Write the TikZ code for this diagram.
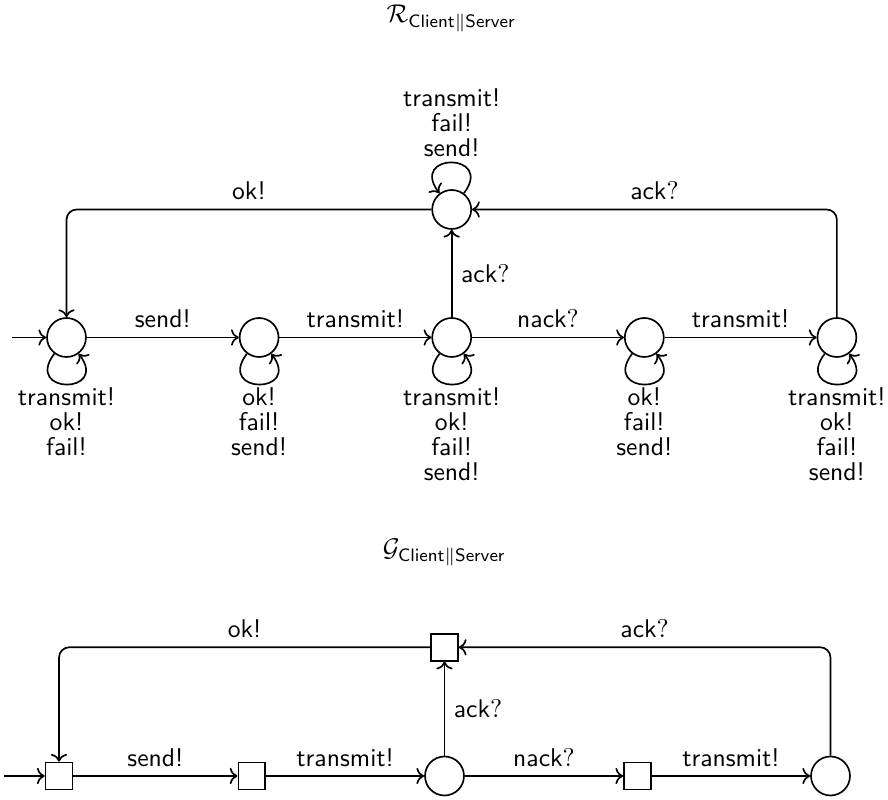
\documentclass[tikz,border=0pt]{standalone}
\usetikzlibrary{arrows.meta}
\begin{document}
\begin{tikzpicture}[x=0.39pt,y=0.39pt,
  every node/.style={font=\sffamily},
  lbl/.style={font={\sffamily\linespread{0.8125}\selectfont},align=center},
  st/.style={circle,draw,line width=0.65pt,minimum size=15.2pt,inner sep=0pt},
  sq/.style={rectangle,draw,line width=0.65pt,minimum size=10.5pt,inner sep=0pt},
  tr/.style={->,line width=0.65pt,rounded corners=4pt},
  loopdown/.style={->,line width=0.65pt,out=-127,in=-53,distance=20pt},
  loopup/.style={->,line width=0.65pt,out=53,in=127,distance=20pt}]
\useasboundingbox (0,0) rectangle (888,-800);

% ---------- R_{Client||Server} ----------
\node[anchor=base] (rtitle) at (451.5,-22.5) {$\mathcal{R}_{\mathsf{Client}\|\mathsf{Server}}$};

\node[st] (s1) at (66.5,-337.5) {};
\node[st] (s2) at (259.1,-337.5) {};
\node[st] (s3) at (451.7,-337.5) {};
\node[st] (s4) at (644.3,-337.5) {};
\node[st] (s5) at (836.9,-337.5) {};
\node[st] (st) at (451.7,-209.5) {};
\coordinate (ri) at (12,-337.5);

\draw[tr] (ri) -- (s1);
\draw[tr] (s1) -- node[above] {send!} (s2);
\draw[tr] (s2) -- node[above] {transmit!} (s3);
\draw[tr] (s3) -- node[above] {nack$?$} (s4);
\draw[tr] (s4) -- node[above] {transmit!} (s5);
\draw[tr] (s3) -- node[right] {ack$?$} (st);
\draw[tr] (st) -| node[pos=0.25,above] {ok!} (s1);
\draw[tr] (s5) |- node[pos=0.75,above] {ack$?$} (st);

\draw[loopdown] (s1.-127) to node[below,lbl,inner sep=1pt] {transmit!\\ok!\\fail!} (s1.-53);
\draw[loopdown] (s2.-127) to node[below,lbl,inner sep=1pt] {ok!\\fail!\\send!} (s2.-53);
\draw[loopdown] (s3.-127) to node[below,lbl,inner sep=1pt] {transmit!\\ok!\\fail!\\send!} (s3.-53);
\draw[loopdown] (s4.-127) to node[below,lbl,inner sep=1pt] {ok!\\fail!\\send!} (s4.-53);
\draw[loopdown] (s5.-127) to node[below,lbl,inner sep=1pt] {transmit!\\ok!\\fail!\\send!} (s5.-53);
\draw[loopup] (st.53) to node[above,lbl,inner sep=2pt] {transmit!\\fail!\\send!} (st.127);

% ---------- G_{Client||Server} ----------
\node[anchor=base] (gtitle) at (444.5,-557) {$\mathcal{G}_{\mathsf{Client}\|\mathsf{Server}}$};

\node[sq] (g1) at (59,-776) {};
\node[sq] (g2) at (251.8,-776) {};
\node[st] (g3) at (444.5,-776) {};
\node[sq] (g4) at (637.5,-776) {};
\node[st] (g5) at (830.5,-776) {};
\node[sq] (gt) at (444.5,-647.3) {};
\coordinate (gi) at (4,-776);

\draw[tr] (gi) -- (g1);
\draw[tr] (g1) -- node[above] {send!} (g2);
\draw[tr] (g2) -- node[above] {transmit!} (g3);
\draw[tr] (g3) -- node[above] {nack$?$} (g4);
\draw[tr] (g4) -- node[above] {transmit!} (g5);
\draw[tr] (g3) -- node[right] {ack$?$} (gt);
\draw[tr] (gt) -| node[pos=0.25,above] {ok!} (g1);
\draw[tr] (g5) |- node[pos=0.75,above] {ack$?$} (gt);
\end{tikzpicture}
\end{document}
